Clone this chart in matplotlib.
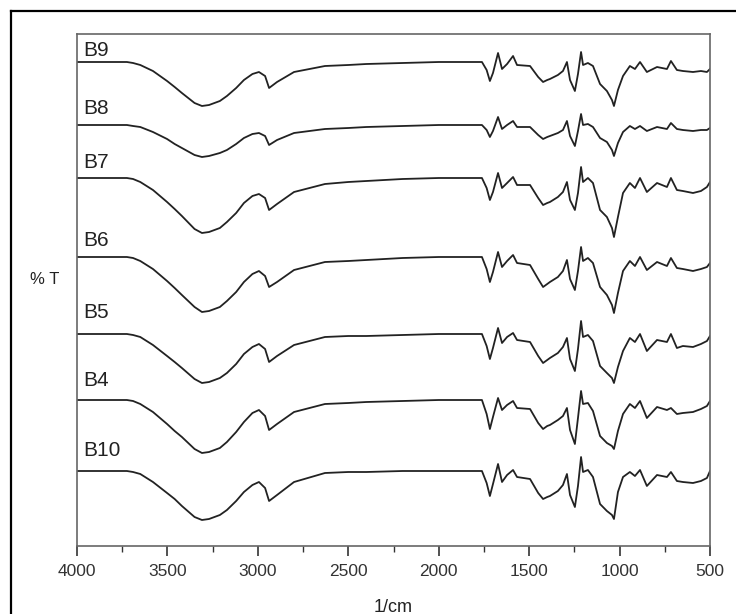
import matplotlib
matplotlib.use('Agg')
import matplotlib.pyplot as plt
from matplotlib.lines import Line2D
from matplotlib.ticker import MultipleLocator

plt.rcParams['font.family'] = ['Liberation Sans', 'DejaVu Sans']

# wavenumber grid (1/cm), shared by all spectra
wn = [4000, 3724, 3690, 3650, 3580, 3502, 3460, 3420, 3350, 3309,
      3270, 3210, 3171, 3120, 3077, 3030, 2994, 2960, 2938, 2894,
      2800, 2629, 2500, 2400, 2200, 2000,
      1800, 1761, 1735, 1717, 1700, 1672, 1650, 1622, 1589,
      1567, 1495, 1450, 1423, 1400, 1385, 1341, 1313, 1291, 1274,
      1247, 1230, 1213, 1202, 1175, 1147, 1108, 1070, 1042, 1031,
      1009, 981, 943, 915, 887, 849, 793, 738, 716, 683,
      650, 594, 550, 517, 500]

# drop in %T below each baseline (arbitrary units)
b9 = [0, 0, 1, 3, 9, 19, 25, 31, 41, 44,
      43, 39, 34, 26, 18, 12, 10, 14, 26, 20,
      10, 4, 3, 2, 1, 0,
      0, 0, 8, 19, 11, -9, 7, 2, -6,
      3, 4, 15, 20, 18, 17, 13, 9, 0, 18,
      29, 12, -10, 3, 1, 4, 22, 29, 38, 44,
      28, 14, 4, 7, 0, 10, 5, 7, -1, 8,
      9, 10, 9, 10, 7]
b8 = [0, 0, 1, 2, 7, 14, 19, 23, 30, 32,
      31, 28, 25, 19, 13, 9, 8, 11, 20, 15,
      8, 4, 3, 2, 1, 0,
      0, 0, 5, 12, 6, -8, 4, 0, -4,
      2, 2, 10, 14, 12, 11, 8, 5, -4, 11,
      21, 6, -11, 0, -1, 2, 13, 17, 25, 31,
      18, 7, 1, 4, 1, 6, 2, 4, -2, 4,
      5, 6, 5, 5, 3]
b7 = [0, 0, 1, 4, 12, 24, 31, 38, 51, 55,
      54, 50, 44, 35, 25, 18, 16, 20, 32, 26,
      14, 6, 4, 3, 1, 0,
      0, 0, 10, 22, 14, -5, 10, 5, -1,
      7, 7, 20, 27, 25, 24, 19, 14, 4, 22,
      32, 15, -11, 4, 0, 5, 32, 39, 50, 59,
      39, 15, 5, 10, 0, 14, 5, 9, 0, 12,
      13, 15, 13, 9, 4]
b6 = [0, 0, 1, 4, 12, 24, 31, 38, 50, 55,
      54, 50, 44, 35, 25, 17, 14, 19, 30, 25,
      13, 5, 4, 3, 1, 0,
      0, 0, 12, 25, 15, -5, 10, 4, -2,
      6, 8, 22, 30, 27, 25, 20, 14, 3, 22,
      33, 14, -10, 4, 1, 6, 30, 38, 48, 56,
      36, 14, 4, 9, 0, 13, 5, 9, 1, 11,
      12, 14, 12, 10, 6]
b5 = [0, 0, 1, 3, 11, 22, 28, 34, 45, 49,
      48, 44, 39, 30, 20, 13, 10, 15, 28, 22,
      11, 3, 2, 2, 1, 0,
      0, 0, 12, 25, 14, -6, 9, 3, -1,
      6, 8, 22, 29, 26, 24, 19, 13, 4, 25,
      37, 15, -13, 3, 1, 7, 32, 39, 44, 49,
      33, 17, 4, 8, 0, 17, 6, 8, 0, 14,
      12, 13, 10, 7, 2]
b4 = [0, 0, 1, 4, 12, 24, 31, 37, 49, 53,
      52, 48, 42, 32, 22, 13, 10, 16, 30, 24,
      12, 4, 3, 2, 1, 0,
      0, 0, 14, 29, 17, -2, 10, 5, 1,
      8, 9, 23, 29, 26, 25, 20, 16, 8, 30,
      44, 18, -9, 4, 3, 11, 36, 43, 46, 49,
      31, 14, 4, 8, 1, 18, 7, 10, 8, 14,
      13, 12, 9, 6, 1]
b10 = [0, 0, 1, 3, 11, 22, 28, 35, 46, 49,
       48, 44, 39, 30, 21, 14, 11, 17, 30, 24,
       11, 2, 1, 1, 0, 0,
       0, 0, 12, 25, 13, -7, 11, 4, -1,
       6, 8, 22, 28, 26, 25, 20, 14, 3, 24,
       36, 15, -14, 1, -1, 6, 33, 40, 44, 48,
       21, 6, 1, 5, -1, 15, 4, 6, 1, 10,
       11, 12, 10, 7, 0]

names = ['B9', 'B8', 'B7', 'B6', 'B5', 'B4', 'B10']
spectra = [b9, b8, b7, b6, b5, b4, b10]
offsets = [484, 421, 368, 289, 212, 146, 75]
label_dy = [12, 17, 15, 16, 22, 19, 20]

fig = plt.figure(figsize=(7.36, 6.14), dpi=100)
ax = fig.add_axes([77/736, 68/614, 633/736, 512/614])

for name, s, off, dy in zip(names, spectra, offsets, label_dy):
    ax.plot(wn, [off - v for v in s], color='#222222', lw=1.3)
    ax.text(3967, off + dy, name, fontsize=15, color='#222222',
            ha='left', va='center')

ax.set_xlim(4000, 500)
ax.set_ylim(0, 512)
ax.set_yticks([])
ax.xaxis.set_major_locator(MultipleLocator(500))
ax.xaxis.set_minor_locator(MultipleLocator(250))
ax.tick_params(axis='x', which='major', direction='out', length=7,
               width=1.2, labelsize=12.5, pad=6, colors='#333333')
ax.tick_params(axis='x', which='minor', direction='out', length=4,
               width=1.0, colors='#333333')
for sp in ax.spines.values():
    sp.set_color('#666666')
    sp.set_linewidth(1.2)

ax.set_xlabel('1/cm', fontsize=13, color='#222222', labelpad=14)
fig.text(30/736, 1 - 279/614, '% T', fontsize=12, color='#222222',
         ha='left', va='center')

# outer frame of the original picture
fig.add_artist(Line2D([11/736, 1.0], [1 - 11/614, 1 - 11/614],
                      transform=fig.transFigure, color='black', lw=1.6))
fig.add_artist(Line2D([11/736, 11/736], [0.0, 1 - 11/614],
                      transform=fig.transFigure, color='black', lw=1.6))

fig.savefig('out.png', dpi=100)
